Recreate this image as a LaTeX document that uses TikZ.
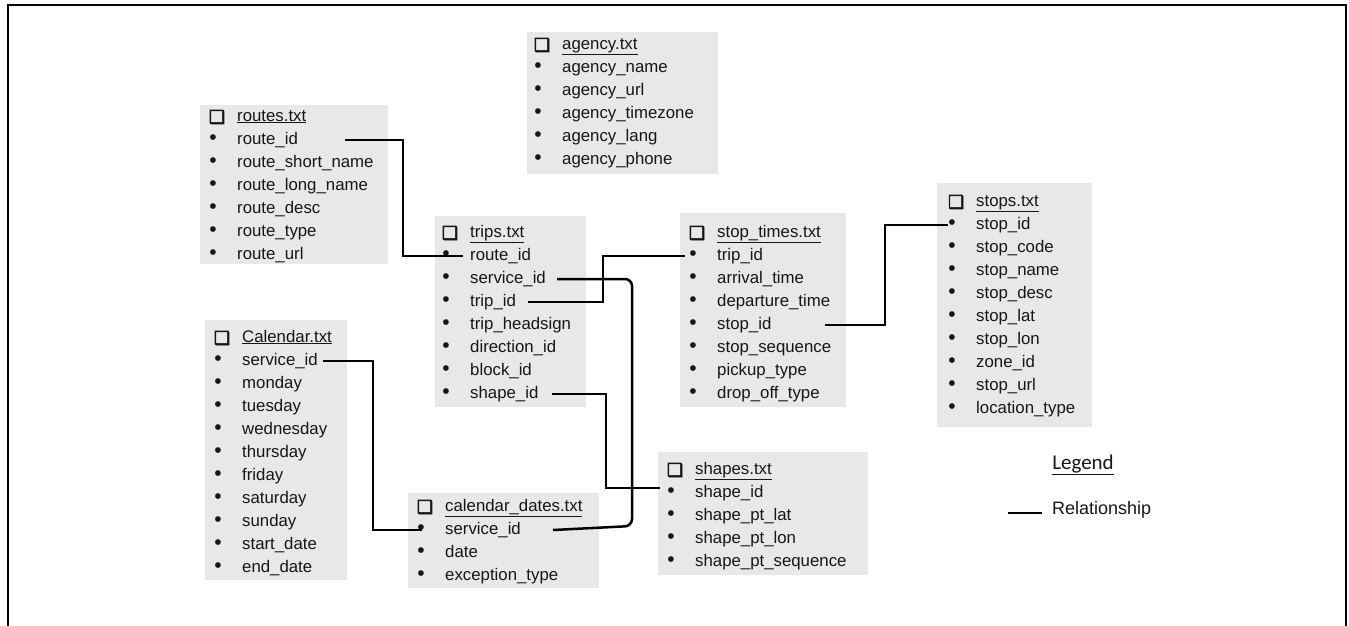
\documentclass[tikz,border=0pt]{standalone}
\usepackage{fontspec}
\setmainfont{Liberation Sans}
\newfontfamily\dejavu[FakeBold=3]{DejaVu Sans}
\newfontfamily\carlito{Carlito}
\usetikzlibrary{calc}
\definecolor{boxgray}{RGB}{232,232,232}
\definecolor{ink}{RGB}{22,22,22}
\newcommand\mktable[5]{%
  \node[chk] (#1-c) at (#2-20, #3) {❑};
  \node[item] (#1-t) at (#2, #3) {\underline{#4}};
  \foreach \t [count=\i] in {#5} {
    \node[bul] (#1-b\i) at (#2-24, #3+23*\i) {•};
    \node[item] (#1-\i) at (#2, #3+23*\i) {\t};
  }
}
\begin{document}
\begin{tikzpicture}[x=1pt,y=-1pt,
  tablebox/.style={fill=boxgray, draw=none, inner sep=0pt, outer sep=0pt, anchor=north west},
  item/.style={anchor=west, inner sep=0pt, font=\fontsize{16.8}{20}\selectfont, text height=12pt, text depth=4pt, text=ink},
  bul/.style={inner sep=0pt, font=\fontsize{21}{22}\selectfont, text=ink},
  chk/.style={inner sep=0pt, font=\dejavu\fontsize{18}{20}\selectfont, text=ink},
  rel/.style={draw=black, line width=2.5pt},
  frame/.style={draw=black, line width=2.4pt}
]
\useasboundingbox (0,0) rectangle (1349,625);
\draw[frame] (8,630) -- (8,5) -- (1346,5) -- (1346,630);

% boxes
\node[tablebox, minimum width=191pt, minimum height=142pt] (agency) at (527,32) {};
\node[tablebox, minimum width=188pt, minimum height=159pt] (routes) at (200,105) {};
\node[tablebox, minimum width=151pt, minimum height=191pt] (trips) at (435,216) {};
\node[tablebox, minimum width=166pt, minimum height=194pt] (stoptimes) at (680,213) {};
\node[tablebox, minimum width=155pt, minimum height=244pt] (stops) at (937,183) {};
\node[tablebox, minimum width=142pt, minimum height=260pt] (calendar) at (205,320) {};
\node[tablebox, minimum width=191pt, minimum height=95pt] (caldates) at (408,493) {};
\node[tablebox, minimum width=210pt, minimum height=123pt] (shapes) at (658,452) {};

% table contents
\mktable{agency}{562}{45}{agency.txt}{agency\_name,agency\_url,agency\_timezone,agency\_lang,agency\_phone}
\mktable{routes}{237}{117}{routes.txt}{route\_id,route\_short\_name,route\_long\_name,route\_desc,route\_type,route\_url}
\mktable{trips}{470}{233}{trips.txt}{route\_id,service\_id,trip\_id,trip\_headsign,direction\_id,block\_id,shape\_id}
\mktable{stoptimes}{717}{233}{stop\_times.txt}{trip\_id,arrival\_time,departure\_time,stop\_id,stop\_sequence,pickup\_type,drop\_off\_type}
\mktable{stops}{976}{202}{stops.txt}{stop\_id,stop\_code,stop\_name,stop\_desc,stop\_lat,stop\_lon,zone\_id,stop\_url,location\_type}
\mktable{calendar}{242}{338}{Calendar.txt}{service\_id,monday,tuesday,wednesday,thursday,friday,saturday,sunday,start\_date,end\_date}
\mktable{caldates}{445}{507}{calendar\_dates.txt}{service\_id,date,exception\_type}
\mktable{shapes}{695}{470}{shapes.txt}{shape\_id,shape\_pt\_lat,shape\_pt\_lon,shape\_pt\_sequence}

% column coordinates for connectors
\coordinate (k345) at (345,0);
\coordinate (k403) at (403,0);
\coordinate (k463) at (463,0);
\coordinate (k528) at (528,0);
\coordinate (k603) at (603,0);
\coordinate (k685) at (685,0);
\coordinate (k557) at (557,0);
\coordinate (k632) at (632,0);
\coordinate (k553) at (553,0);
\coordinate (k552) at (552,0);
\coordinate (k606) at (606,0);
\coordinate (k660) at (660,0);
\coordinate (k323) at (323,0);
\coordinate (k373) at (373,0);
\coordinate (k422) at (422,0);
\coordinate (k825) at (825,0);
\coordinate (k885) at (885,0);
\coordinate (k948) at (948,0);

% relationships
\draw[rel] (k345 |- routes-1) -| (k403 |- trips-1) -- (k463 |- trips-1);
\draw[rel] (k528 |- trips-3) -| (k603 |- stoptimes-1) -- (k685 |- stoptimes-1);
\draw[rel, rounded corners=7pt] (k557 |- trips-2) -- (k632 |- trips-2) -- ($(k632 |- caldates-1)+(0,-4)$) -- (k553 |- caldates-1);
\draw[rel] (k552 |- trips-7) -| ($(k606 |- shapes-1)+(0,-5)$) -- ($(k660 |- shapes-1)+(0,-5)$);
\draw[rel] (k323 |- calendar-1) -| (k373 |- caldates-1) -- (k422 |- caldates-1);
\draw[rel] (k825 |- stoptimes-4) -| (k885 |- stops-1) -- (k948 |- stops-1);

% legend
\node[inner sep=0pt, font=\carlito\fontsize{21}{24}\selectfont, text=ink] (legend) at (1083,465) {\underline{Legend}};
\node[item, font=\fontsize{18}{22}\selectfont] (relname) at (1052,510) {Relationship};
\coordinate (legA) at (1008,0);
\draw[rel, line width=2pt] ($(legA |- relname)+(0,3)$) -- ($(relname.west)+(-10,3)$);
\end{tikzpicture}
\end{document}
